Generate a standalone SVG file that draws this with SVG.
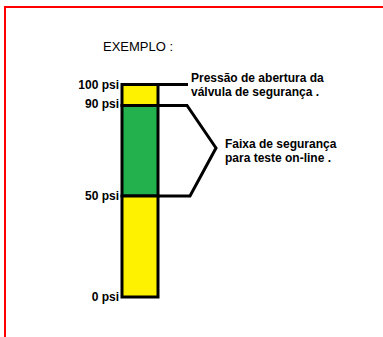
<svg xmlns="http://www.w3.org/2000/svg" width="383" height="337" viewBox="0 0 383 337">
<style>
.t{font-family:"Liberation Sans",Arial,sans-serif;font-size:12px;fill:#000}
.b{font-weight:bold}
.ln{fill:none;stroke:#000;stroke-width:3;stroke-linejoin:miter}
.seg{stroke:#000;stroke-width:3}
</style>
<rect width="383" height="337" fill="#fff"/>
<g id="frame">
<path d="M5,337 V7 H383" fill="none" stroke="#f00" stroke-width="2"/>
</g>
<g id="title"><text class="t" x="103" y="51" style="font-size:13px">EXEMPLO :</text></g>
<g id="bar">
<rect x="122" y="84.5" width="36" height="21" fill="#fff200" class="seg"/>
<rect x="122" y="105.5" width="36" height="90.5" fill="#22b14c" class="seg"/>
<rect x="122" y="196" width="36" height="101" fill="#fff200" class="seg"/>
</g>
<g id="scale" class="t b">
<text x="119" y="89" text-anchor="end">100 psi</text>
<text x="119" y="108" text-anchor="end">90 psi</text>
<text x="119" y="200" text-anchor="end">50 psi</text>
<text x="119" y="301" text-anchor="end">0 psi</text>
</g>
<g id="connectors">
<path class="ln" d="M158,84.5 H188"/>
<path class="ln" d="M158,105.5 H187 L216,148 L190,196 H158"/>
</g>
<g id="label-abertura" class="t b">
<text x="191" y="82">Pressão de abertura da</text>
<text x="191" y="96">válvula de segurança .</text>
</g>
<g id="label-faixa" class="t b">
<text x="225" y="148">Faixa de segurança</text>
<text x="225" y="162">para teste on-line .</text>
</g>
</svg>
